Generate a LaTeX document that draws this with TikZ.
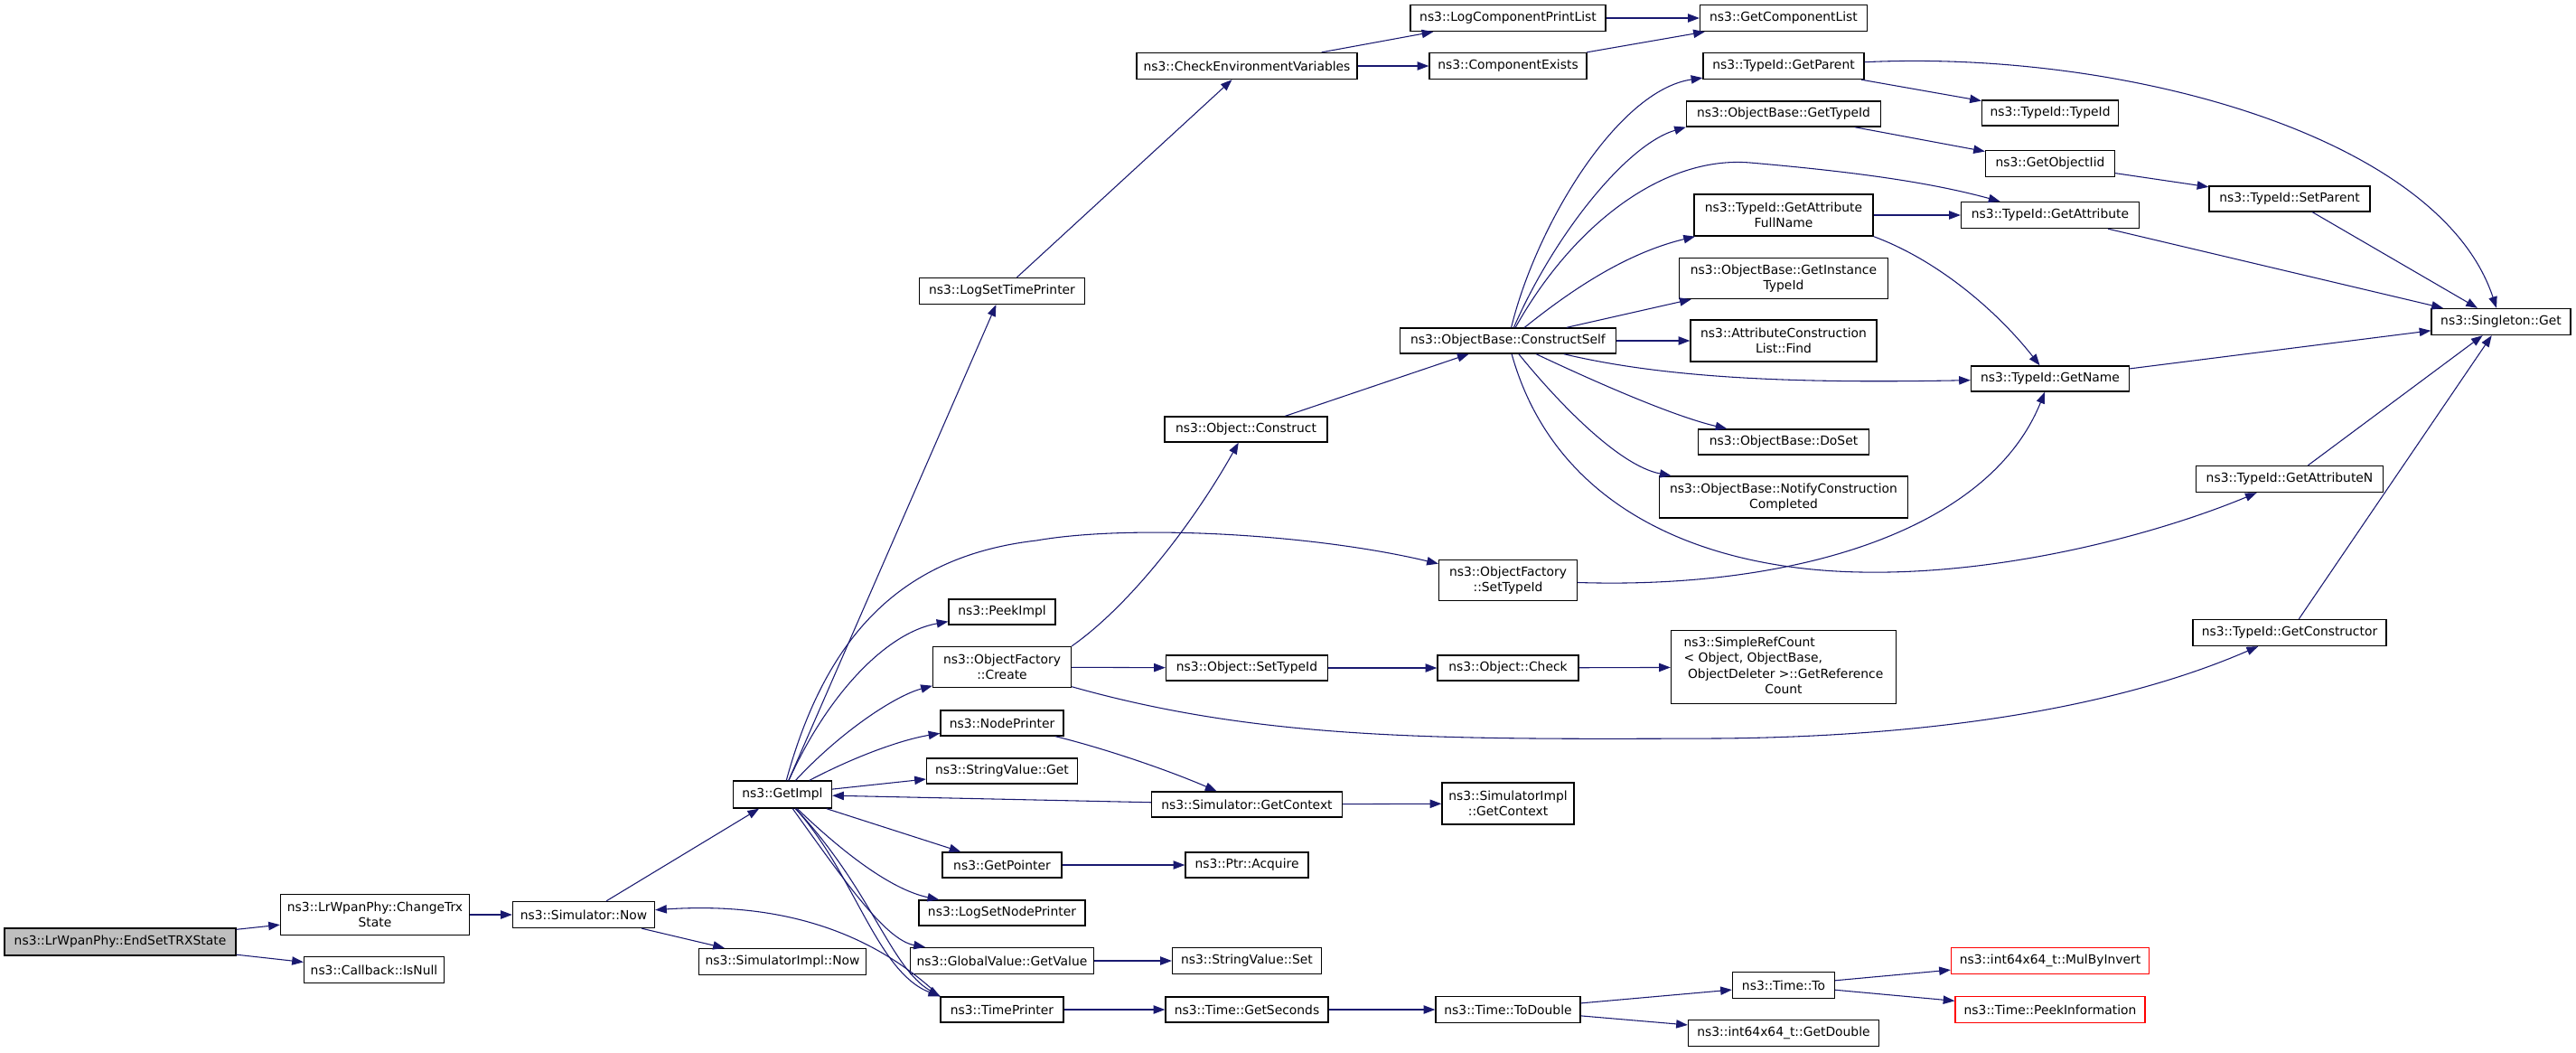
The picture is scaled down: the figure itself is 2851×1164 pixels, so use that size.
\documentclass[tikz,border=0pt]{standalone}
\usepackage{fontspec}
\setmainfont{DejaVu Sans}
\usetikzlibrary{arrows.meta}
\definecolor{edgeblue}{HTML}{191970}
\definecolor{greyroot}{HTML}{BFBFBF}
\tikzset{
  nd/.style={draw=black, line width=1pt, fill=white, inner sep=0pt, align=center,
    font=\fontsize{10.4}{13}\selectfont},
  edg/.style={draw=edgeblue, line width=0.8pt, -{Triangle[length=9.5pt,width=7pt]}},
}
\begin{document}
\begin{tikzpicture}[x=0.75pt,y=-0.75pt]
\useasboundingbox (0,0) rectangle (2851,1164);
\fill[white] (0,0) rectangle (2851,1164);

\node[nd, minimum width=256*0.75pt, minimum height=30*0.75pt, fill=greyroot] (root) at (133,1042) {ns3::LrWpanPhy::EndSetTRXState};
\node[nd, minimum width=209*0.75pt, minimum height=45*0.75pt] (ctrx) at (415,1012) {ns3::LrWpanPhy::ChangeTrx\\State};
\node[nd, minimum width=155*0.75pt, minimum height=29*0.75pt] (isnull) at (414,1073) {ns3::Callback::IsNull};
\node[nd, minimum width=157*0.75pt, minimum height=29*0.75pt] (snow) at (646,1012) {ns3::Simulator::Now};
\node[nd, minimum width=185*0.75pt, minimum height=29*0.75pt] (sinow) at (866,1064) {ns3::SimulatorImpl::Now};
\node[nd, minimum width=109*0.75pt, minimum height=30*0.75pt] (getimpl) at (866,879) {ns3::GetImpl};
\node[nd, minimum width=183*0.75pt, minimum height=29*0.75pt] (lstp) at (1109,322) {ns3::LogSetTimePrinter};
\node[nd, minimum width=244*0.75pt, minimum height=29*0.75pt] (cev) at (1380,73) {ns3::CheckEnvironmentVariables};
\node[nd, minimum width=216*0.75pt, minimum height=29*0.75pt] (lcpl) at (1669,20) {ns3::LogComponentPrintList};
\node[nd, minimum width=174*0.75pt, minimum height=29*0.75pt] (cex) at (1669,73) {ns3::ComponentExists};
\node[nd, minimum width=185*0.75pt, minimum height=29*0.75pt] (gcl) at (1974,20) {ns3::GetComponentList};
\node[nd, minimum width=178*0.75pt, minimum height=29*0.75pt] (gpar) at (1974,73) {ns3::TypeId::GetParent};
\node[nd, minimum width=215*0.75pt, minimum height=28*0.75pt] (gtid) at (1974,126) {ns3::ObjectBase::GetTypeId};
\node[nd, minimum width=151*0.75pt, minimum height=28*0.75pt] (tidtid) at (2269,125) {ns3::TypeId::TypeId};
\node[nd, minimum width=143*0.75pt, minimum height=29*0.75pt] (goiid) at (2269,181) {ns3::GetObjectIid};
\node[nd, minimum width=178*0.75pt, minimum height=28*0.75pt] (spar) at (2534,220) {ns3::TypeId::SetParent};
\node[nd, minimum width=198*0.75pt, minimum height=46*0.75pt] (gafn) at (1974,238) {ns3::TypeId::GetAttribute\\FullName};
\node[nd, minimum width=197*0.75pt, minimum height=29*0.75pt] (gattr) at (2269,238) {ns3::TypeId::GetAttribute};
\node[nd, minimum width=231*0.75pt, minimum height=45*0.75pt] (gitid) at (1974,308) {ns3::ObjectBase::GetInstance\\TypeId};
\node[nd, minimum width=206*0.75pt, minimum height=46*0.75pt] (acfind) at (1974,377) {ns3::AttributeConstruction\\List::Find};
\node[nd, minimum width=239*0.75pt, minimum height=28*0.75pt] (cself) at (1669,377) {ns3::ObjectBase::ConstructSelf};
\node[nd, minimum width=175*0.75pt, minimum height=28*0.75pt] (gname) at (2269,419) {ns3::TypeId::GetName};
\node[nd, minimum width=154*0.75pt, minimum height=29*0.75pt] (sget) at (2768,356) {ns3::Singleton::Get};
\node[nd, minimum width=189*0.75pt, minimum height=28*0.75pt] (doset) at (1974,489) {ns3::ObjectBase::DoSet};
\node[nd, minimum width=275*0.75pt, minimum height=46*0.75pt] (ncc) at (1974,550) {ns3::ObjectBase::NotifyConstruction\\Completed};
\node[nd, minimum width=207*0.75pt, minimum height=29*0.75pt] (gattrn) at (2534,530) {ns3::TypeId::GetAttributeN};
\node[nd, minimum width=180*0.75pt, minimum height=28*0.75pt] (oconst) at (1379,475) {ns3::Object::Construct};
\node[nd, minimum width=153*0.75pt, minimum height=45*0.75pt] (ofsti) at (1669,642) {ns3::ObjectFactory\\::SetTypeId};
\node[nd, minimum width=118*0.75pt, minimum height=28*0.75pt] (peek) at (1109,677) {ns3::PeekImpl};
\node[nd, minimum width=153*0.75pt, minimum height=45*0.75pt] (ofc) at (1109,738) {ns3::ObjectFactory\\::Create};
\node[nd, minimum width=179*0.75pt, minimum height=28*0.75pt] (ostid) at (1380,739) {ns3::Object::SetTypeId};
\node[nd, minimum width=156*0.75pt, minimum height=28*0.75pt] (ocheck) at (1669,739) {ns3::Object::Check};
\node[nd, minimum width=249*0.75pt, minimum height=81*0.75pt] (src) at (1974,738) {\begin{tabular}{@{}l@{}}ns3::SimpleRefCount\\< Object, ObjectBase,\\\ ObjectDeleter >::GetReference\\\multicolumn{1}{@{}c@{}}{Count}\end{tabular}};
\node[nd, minimum width=214*0.75pt, minimum height=29*0.75pt] (gctor) at (2534,700) {ns3::TypeId::GetConstructor};
\node[nd, minimum width=136*0.75pt, minimum height=28*0.75pt] (nprint) at (1109,800) {ns3::NodePrinter};
\node[nd, minimum width=167*0.75pt, minimum height=28*0.75pt] (svget) at (1109,853) {ns3::StringValue::Get};
\node[nd, minimum width=211*0.75pt, minimum height=28*0.75pt] (sgctx) at (1380,890) {ns3::Simulator::GetContext};
\node[nd, minimum width=146*0.75pt, minimum height=46*0.75pt] (sigctx) at (1669,889) {ns3::SimulatorImpl\\::GetContext};
\node[nd, minimum width=132*0.75pt, minimum height=28*0.75pt] (gptr) at (1109,957) {ns3::GetPointer};
\node[nd, minimum width=136*0.75pt, minimum height=28*0.75pt] (pacq) at (1380,957) {ns3::Ptr::Acquire};
\node[nd, minimum width=184*0.75pt, minimum height=28*0.75pt] (lsnp) at (1109,1010) {ns3::LogSetNodePrinter};
\node[nd, minimum width=203*0.75pt, minimum height=29*0.75pt] (gvgv) at (1109,1063) {ns3::GlobalValue::GetValue};
\node[nd, minimum width=165*0.75pt, minimum height=29*0.75pt] (svset) at (1380,1063) {ns3::StringValue::Set};
\node[nd, minimum width=136*0.75pt, minimum height=28*0.75pt] (tprint) at (1109,1117) {ns3::TimePrinter};
\node[nd, minimum width=180*0.75pt, minimum height=28*0.75pt] (tgs) at (1380,1117) {ns3::Time::GetSeconds};
\node[nd, minimum width=160*0.75pt, minimum height=29*0.75pt] (ttd) at (1669,1117) {ns3::Time::ToDouble};
\node[nd, minimum width=113*0.75pt, minimum height=29*0.75pt] (tto) at (1974,1090) {ns3::Time::To};
\node[nd, minimum width=211*0.75pt, minimum height=29*0.75pt] (gdbl) at (1974,1143) {ns3::int64x64\_t::GetDouble};
\node[nd, minimum width=219*0.75pt, minimum height=29*0.75pt, draw=red] (mbi) at (2269,1063) {ns3::int64x64\_t::MulByInvert};
\node[nd, minimum width=210*0.75pt, minimum height=29*0.75pt, draw=red] (pinf) at (2269,1117) {ns3::Time::PeekInformation};

\draw[edg] (root) -- (ctrx);
\draw[edg] (root) -- (isnull);
\draw[edg] (ctrx) -- (snow);
\draw[edg] (snow) -- (getimpl);
\draw[edg] (snow) -- (sinow);
\draw[edg] (tprint.north west) .. controls (990,1055) and (900,995) .. (snow);
\draw[edg] (getimpl) .. controls (945,965) and (970,1075) .. (tprint.north west);
\draw[edg] (getimpl) .. controls (965,985) and (985,1070) .. (tprint.north west);
\draw[edg] (getimpl) -- (svget);
\draw[edg] (sgctx) -- (getimpl);
\draw[edg] (nprint) .. controls (1230,830) and (1300,855) .. (sgctx);
\draw[edg] (getimpl) .. controls (950,835) and (1000,818) .. (nprint);
\draw[edg] (getimpl) .. controls (930,810) and (990,770) .. (ofc);
\draw[edg] (getimpl) .. controls (915,770) and (980,700) .. (peek);
\draw[edg] (getimpl) .. controls (915,700) and (1000,615) .. (1147,598) .. controls (1250,580) and (1450,590) .. (ofsti);
\draw[edg] (getimpl) -- (lstp);
\draw[edg] (lstp) -- (cev);
\draw[edg] (cev) -- (lcpl);
\draw[edg] (cev) -- (cex);
\draw[edg] (lcpl) -- (gcl);
\draw[edg] (cex) -- (gcl);
\draw[edg] (ofc.north east) .. controls (1250,670) and (1320,580) .. (oconst);
\draw[edg] (ofc) -- (ostid);
\draw[edg] (ostid) -- (ocheck);
\draw[edg] (ocheck) -- (src);
\draw[edg] (ofc) .. controls (1400,820) and (1600,818) .. (1900,817) .. controls (2150,815) and (2350,780) .. (gctor);
\draw[edg] (gctor) -- (sget);
\draw[edg] (oconst) -- (cself);
\draw[edg] (cself) .. controls (1700,250) and (1790,100) .. (gpar);
\draw[edg] (cself) .. controls (1720,260) and (1800,160) .. (gtid.south west);
\draw[edg] (cself) .. controls (1740,250) and (1840,172) .. (1937,180) .. controls (2040,189) and (2130,200) .. (gattr);
\draw[edg] (cself) .. controls (1740,320) and (1800,280) .. (gafn);
\draw[edg] (cself) -- (gitid);
\draw[edg] (cself) -- (acfind);
\draw[edg] (cself) .. controls (1850,420) and (2000,424) .. (gname);
\draw[edg] (cself) .. controls (1760,420) and (1850,460) .. (doset);
\draw[edg] (cself) .. controls (1720,440) and (1790,515) .. (ncc);
\draw[edg] (cself) .. controls (1720,560) and (1880,630) .. (2060,633) .. controls (2220,636) and (2390,590) .. (gattrn);
\draw[edg] (ofsti) .. controls (1980,652) and (2200,590) .. (gname);
\draw[edg] (gpar) -- (tidtid);
\draw[edg] (gpar) .. controls (2350,55) and (2700,150) .. (sget);
\draw[edg] (gtid) -- (goiid);
\draw[edg] (goiid) -- (spar);
\draw[edg] (spar) -- (sget);
\draw[edg] (gafn) -- (gattr);
\draw[edg] (gafn.south east) .. controls (2150,290) and (2215,350) .. (gname);
\draw[edg] (gattr) -- (sget);
\draw[edg] (gname) -- (sget);
\draw[edg] (gattrn) -- (sget);
\draw[edg] (sgctx) -- (sigctx);
\draw[edg] (getimpl) -- (gptr);
\draw[edg] (gptr) -- (pacq);
\draw[edg] (getimpl) .. controls (940,950) and (990,985) .. (lsnp);
\draw[edg] (getimpl) .. controls (935,975) and (980,1040) .. (gvgv);
\draw[edg] (gvgv) -- (svset);
\draw[edg] (tprint) -- (tgs);
\draw[edg] (tgs) -- (ttd);
\draw[edg] (ttd) -- (tto);
\draw[edg] (ttd) -- (gdbl);
\draw[edg] (tto) -- (mbi);
\draw[edg] (tto) -- (pinf);
\end{tikzpicture}
\end{document}
